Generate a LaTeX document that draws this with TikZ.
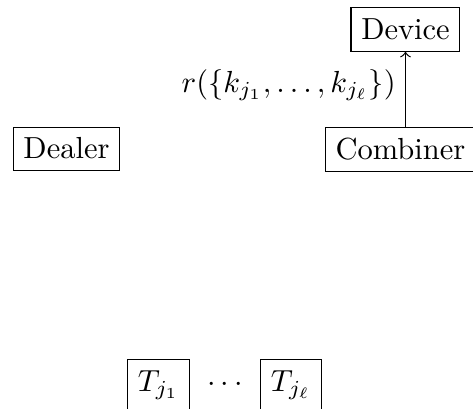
\documentclass[tikz,border=0pt]{standalone}
\begin{document}
\begin{tikzpicture}[x=0.328pt,y=-0.328pt,
  box/.style={draw,inner sep=3.33pt,text height=6.94pt,text depth=0.6pt},
  tbox/.style={draw,inner sep=3.33pt,text height=6.94pt,text depth=3pt}]
\useasboundingbox (0,0) rectangle (473,408);
\node[box] (device) at (405.5,29.5) {Device};
\node[box] (combiner) at (400.5,149.5) {Combiner};
\node[box] (dealer) at (66.5,149) {Dealer};
\node[tbox] (t1) at (158.5,385) {$T_{j_1}$};
\node (dots) at (225,385) {$\cdots$};
\node[tbox] (tl) at (291,385) {$T_{j_\ell}$};
\draw[->] (combiner.north -| device.south) -- node[left,yshift=1.5pt,inner sep=3pt] {$r(\{k_{j_1},\ldots,k_{j_\ell}\})$} (device.south);
\end{tikzpicture}
\end{document}
